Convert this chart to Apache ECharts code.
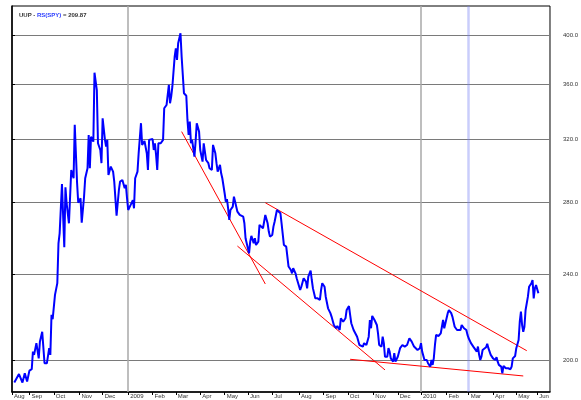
<!DOCTYPE html>
<html>
<head>
<meta charset="utf-8">
<script src="https://cdn.jsdelivr.net/npm/echarts@6/dist/echarts.min.js"></script>
<style>
html, body { margin: 0; padding: 0; background: #fff; }
#chart { width: 581px; height: 400px; }
</style>
</head>
<body>
<div id="chart"></div>
<script>
// trading-day index since the first bar (11 Aug 2008)
const sessions = [
  2, 6, 9, 11, 13, 15, 17, 18, 19, 21, 23, 24, 26, 28, 30, 32, 33, 34, 35, 37,
  39, 40, 41, 43, 45, 46, 47, 49, 51, 53, 54, 56, 57, 59, 60, 62, 63, 65, 66, 67,
  68, 70, 71, 73, 74, 76, 77, 78, 80, 81, 82, 83, 85, 87, 88, 90, 92, 93, 95, 97,
  98, 99, 100, 102, 104, 105, 106, 108, 109, 110, 111, 112, 114, 116, 117, 118, 121, 122, 123, 124,
  125, 126, 128, 130, 131, 133, 134, 135, 136, 137, 138, 140, 141, 142, 143, 144, 145, 146, 147, 148,
  150, 151, 152, 153, 154, 155, 157, 158, 159, 161, 162, 164, 165, 167, 169, 170, 172, 173, 175, 176,
  177, 179, 180, 181, 183, 184, 185, 186, 187, 188, 190, 191, 192, 194, 196, 197, 199, 200, 201, 202,
  204, 205, 206, 208, 209, 210, 212, 213, 214, 216, 218, 220, 221, 222, 224, 225, 226, 228, 229, 231,
  232, 234, 236, 237, 238, 240, 241, 242, 243, 244, 245, 246, 248, 249, 251, 253, 254, 255, 257, 258,
  259, 261, 263, 265, 266, 267, 269, 270, 272, 274, 275, 277, 279, 280, 282, 283, 285, 287, 288, 290,
  291, 292, 294, 295, 297, 299, 300, 302, 303, 305, 307, 308, 309, 310, 312, 314, 315, 316, 318, 319,
  320, 321, 323, 324, 325, 326, 328, 329, 330, 332, 334, 335, 336, 338, 339, 340, 342, 344, 346, 347,
  349, 351, 352, 353, 355, 356, 357, 358, 360, 361, 362, 363, 364, 365, 367, 369, 370, 371, 372, 373,
  375, 376, 377, 378, 379, 380, 381, 383, 384, 386, 387, 388, 389, 391, 392, 393, 394, 395, 396, 397,
  398, 400, 401, 402, 403, 404, 405, 406, 408, 409, 410, 411, 412, 413, 414, 416, 417, 418, 419, 420,
  421, 422, 423, 425, 426, 427, 428, 429, 430, 431, 432, 433, 434, 436, 437, 438, 439, 440, 441, 442,
  444, 445, 446, 447, 448, 449, 450, 451, 453
];
const rs = [
  190.6, 194.1, 190.6, 194.4, 191.0, 195.5, 196.1, 203.6, 202.2, 207.3, 200.7, 207.9, 212.4, 198.6, 198.6, 205.1, 202.2, 220.2, 218.2, 229.8,
  235.6, 256.5, 262.0, 291.1, 254.4, 289.1, 279.4, 267.7, 299.9, 294.7, 330.2, 291.9, 279.7, 282.4, 268.0, 283.3, 294.7, 301.0, 323.2, 301.0,
  322.0, 318.6, 369.1, 355.7, 317.5, 313.0, 304.3, 334.9, 319.8, 315.2, 319.8, 296.8, 302.1, 298.9, 292.6, 272.1, 287.4, 292.6, 293.6, 288.5,
  290.5, 282.4, 275.4, 278.3, 281.3, 276.4, 294.7, 298.9, 310.8, 310.8, 331.4, 316.4, 319.1, 310.8, 299.9, 319.8, 320.4, 313.0, 317.5, 309.7,
  299.9, 317.5, 317.5, 319.8, 342.1, 344.5, 344.5, 359.6, 345.8, 350.7, 358.2, 381.9, 388.8, 379.2, 393.0, 394.3, 401.5, 381.9, 367.3, 353.2,
  351.4, 333.7, 323.2, 332.5, 317.5, 319.8, 308.6, 318.6, 331.4, 325.5, 313.0, 305.3, 317.5, 306.4, 304.3, 301.0, 299.9, 316.4, 310.8, 304.3,
  298.9, 303.2, 297.8, 294.7, 285.4, 280.3, 281.8, 276.4, 269.6, 275.4, 277.4, 283.3, 280.3, 274.4, 272.5, 273.5, 271.5, 267.7, 259.3, 256.5,
  251.1, 257.4, 260.6, 256.5, 259.3, 255.6, 257.4, 266.8, 266.8, 264.9, 272.5, 267.7, 263.0, 260.2, 261.1, 265.8, 268.6, 275.4, 275.4, 273.5,
  267.7, 255.6, 254.7, 249.3, 244.1, 242.3, 240.6, 243.2, 244.1, 240.6, 238.1, 237.2, 232.2, 233.8, 238.1, 236.4, 233.0, 238.9, 242.0, 237.2,
  233.0, 228.1, 228.1, 227.3, 232.2, 235.6, 233.8, 228.9, 223.3, 221.0, 219.4, 215.5, 214.0, 215.0, 213.2, 218.6, 217.0, 218.6, 222.5, 224.4,
  220.2, 216.3, 213.2, 212.4, 210.2, 206.5, 207.3, 205.8, 207.3, 206.5, 210.2, 217.8, 214.0, 219.7, 217.8, 215.5, 211.7, 206.5, 205.8, 210.2,
  207.3, 201.4, 201.4, 205.1, 203.6, 200.7, 199.3, 202.9, 199.3, 201.4, 205.1, 204.3, 206.5, 205.8, 205.1, 206.5, 209.5, 208.0, 205.8, 205.1,
  204.3, 205.1, 207.3, 203.6, 200.0, 199.3, 200.0, 198.6, 197.2, 200.0, 197.9, 200.7, 206.5, 211.0, 210.5, 211.7, 214.7, 217.8, 214.0, 216.3,
  221.0, 222.5, 222.9, 221.0, 219.4, 218.6, 214.7, 213.2, 214.0, 213.2, 215.5, 216.3, 214.0, 213.2, 211.0, 209.5, 208.7, 207.3, 207.3, 205.8,
  205.1, 203.6, 205.8, 202.2, 200.0, 201.4, 204.3, 203.6, 205.5, 207.0, 205.1, 204.3, 202.2, 202.9, 200.7, 200.0, 201.2, 199.3, 197.9, 197.9,
  197.2, 194.4, 197.5, 196.5, 197.2, 196.5, 196.9, 196.1, 197.2, 200.7, 200.0, 201.7, 205.1, 208.7, 217.0, 221.7, 215.5, 212.4, 214.7, 222.5,
  228.9, 233.8, 234.7, 235.6, 237.2, 228.1, 233.0, 234.7, 230.6
];

const monthTicks = [0, 15, 36, 58, 78, 100, 121, 141, 162, 183, 203, 224, 247, 268, 289, 311, 332, 352, 374, 393, 414, 434, 452];
const monthNames = ['Aug', 'Sep', 'Oct', 'Nov', 'Dec', '2009', 'Feb', 'Mar', 'Apr', 'May', 'Jun', 'Jul',
                    'Aug', 'Sep', 'Oct', 'Nov', 'Dec', '2010', 'Feb', 'Mar', 'Apr', 'May', 'Jun'];
const yearLines = [100, 352];
const markerLine = 393;

const valueTicks = [200, 240, 280, 320, 360, 400];
const valueRange = [186.8, 425.5];
const sessionRange = [0, 463];

// hand drawn trendlines: [session, value] pairs
const trendlines = [
  [[146, 325.5], [218, 235.2]],
  [[194, 255.0], [321, 195.8]],
  [[218, 279.7], [443, 204.0]],
  [[291, 200.3], [440, 193.3]]
];

const lastValue = '209.87';

const chart = echarts.init(document.getElementById('chart'));

// the chart is on a log scale: plot ln(value) and label back with exp
const logTicks = valueTicks.map(v => Math.log(v));
const lineData = sessions.map((s, i) => [s, Math.log(rs[i])]);

const markLines = yearLines.map(x => ({
  xAxis: x,
  lineStyle: { color: '#a8a8a8', width: 1.5, type: 'solid' }
}));
markLines.push({
  xAxis: markerLine,
  lineStyle: { color: 'rgba(120,130,245,0.4)', width: 2.5, type: 'solid' }
});

const series = [{
  type: 'line',
  data: lineData,
  showSymbol: false,
  z: 5,
  lineStyle: { color: '#0000ff', width: 2 },
  markLine: {
    silent: true,
    symbol: 'none',
    label: { show: false },
    z: 1,
    data: markLines
  }
}];
trendlines.forEach(t => {
  series.push({
    type: 'line',
    data: t.map(p => [p[0], Math.log(p[1])]),
    showSymbol: false,
    z: 4,
    lineStyle: { color: '#ff0000', width: 1 }
  });
});

const option = {
  animation: false,
  backgroundColor: '#fff',
  title: {
    left: 14,
    top: 7,
    text: '{a|UUP - }{b|RS(SPY)}{a| = ' + lastValue + '}',
    textStyle: {
      rich: {
        a: { fontSize: 6, color: '#333', fontFamily: 'Liberation Sans' },
        b: { fontSize: 6, color: '#2a3cff', fontFamily: 'Liberation Sans' }
      }
    }
  },
  grid: {
    left: 12,
    right: 28,
    top: 6,
    bottom: 8,
    show: true,
    borderColor: '#000',
    borderWidth: 1
  },
  xAxis: {
    type: 'value',
    min: sessionRange[0],
    max: sessionRange[1],
    axisLine: { show: true, lineStyle: { color: '#000', width: 1.5 } },
    axisTick: {
      show: true,
      customValues: monthTicks,
      length: 3,
      lineStyle: { color: '#000', width: 1 }
    },
    axisLabel: {
      customValues: monthTicks,
      showMinLabel: true,
      showMaxLabel: true,
      align: 'left',
      margin: 1,
      padding: [0, 0, 0, 2],
      fontSize: 6,
      color: '#333',
      fontFamily: 'Liberation Sans',
      formatter: v => monthNames[monthTicks.indexOf(Math.round(v))] || ''
    },
    splitLine: { show: false }
  },
  yAxis: {
    type: 'value',
    position: 'right',
    min: Math.log(valueRange[0]),
    max: Math.log(valueRange[1]),
    axisLine: { show: true, lineStyle: { color: '#000', width: 1.5 } },
    axisTick: {
      show: true,
      customValues: logTicks,
      length: 3,
      lineStyle: { color: '#000' }
    },
    axisLabel: {
      customValues: logTicks,
      margin: 13,
      fontSize: 6,
      color: '#333',
      fontFamily: 'Liberation Sans',
      formatter: v => Math.exp(v).toFixed(1)
    },
    splitLine: { show: true, lineStyle: { color: '#7a7a7a', width: 1 } }
  },
  series: series
};

chart.setOption(option);
</script>
</body>
</html>
